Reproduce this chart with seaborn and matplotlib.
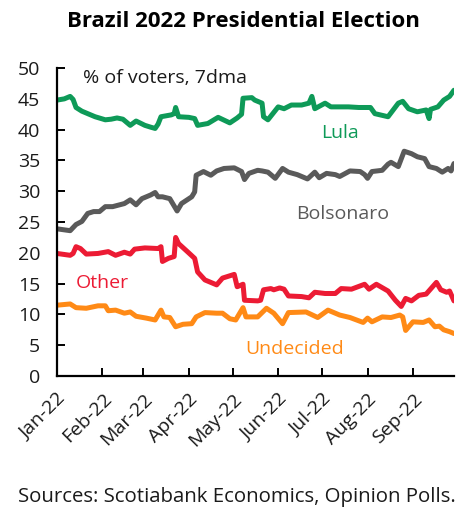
import matplotlib
matplotlib.use("Agg")
import matplotlib.pyplot as plt
import matplotlib.dates as mdates
import numpy as np
import pandas as pd
import seaborn as sns

# Poll averages (% of voters, 7-day moving average), 2022
lula_dates = ["2022-01-01", "2022-01-06", "2022-01-10", "2022-01-12", "2022-01-14", "2022-01-18",
              "2022-01-22", "2022-01-27", "2022-02-03", "2022-02-07", "2022-02-11", "2022-02-15",
              "2022-02-20", "2022-02-24", "2022-03-02", "2022-03-06", "2022-03-09", "2022-03-11",
              "2022-03-13", "2022-03-20", "2022-03-22", "2022-03-23", "2022-03-25", "2022-04-01",
              "2022-04-05", "2022-04-07", "2022-04-14", "2022-04-21", "2022-04-29", "2022-05-04",
              "2022-05-07", "2022-05-08", "2022-05-14", "2022-05-16", "2022-05-21", "2022-05-22",
              "2022-05-25", "2022-06-01", "2022-06-05", "2022-06-10", "2022-06-17", "2022-06-22",
              "2022-06-24", "2022-06-26", "2022-07-03", "2022-07-07", "2022-07-19", "2022-07-26",
              "2022-08-03", "2022-08-06", "2022-08-15", "2022-08-22", "2022-08-25", "2022-08-29",
              "2022-09-04", "2022-09-10", "2022-09-12", "2022-09-13", "2022-09-18", "2022-09-22",
              "2022-09-26", "2022-09-29"]
lula = [44.8, 45.0, 45.4, 44.9, 43.6, 43.0,
        42.6, 42.1, 41.6, 41.7, 41.9, 41.7,
        40.7, 41.4, 40.7, 40.4, 40.2, 40.9,
        42.1, 42.4, 42.6, 43.6, 42.1, 42.0,
        41.8, 40.7, 41.0, 42.0, 41.1, 41.9,
        42.5, 45.1, 45.2, 44.8, 44.3, 42.1,
        41.6, 43.7, 43.4, 44.0, 44.0, 44.3,
        45.4, 43.4, 44.3, 43.7, 43.7, 43.6,
        43.6, 42.6, 42.1, 44.3, 44.6, 43.4,
        42.9, 43.2, 41.8, 43.3, 43.7, 44.8,
        45.4, 46.4]

bolsonaro_dates = ["2022-01-01", "2022-01-10", "2022-01-14", "2022-01-18", "2022-01-22", "2022-01-26",
                   "2022-01-30", "2022-02-03", "2022-02-08", "2022-02-16", "2022-02-20", "2022-02-24",
                   "2022-02-28", "2022-03-06", "2022-03-09", "2022-03-11", "2022-03-14", "2022-03-19",
                   "2022-03-21", "2022-03-24", "2022-03-27", "2022-04-03", "2022-04-05", "2022-04-06",
                   "2022-04-11", "2022-04-16", "2022-04-20", "2022-04-25", "2022-05-02", "2022-05-07",
                   "2022-05-09", "2022-05-12", "2022-05-18", "2022-05-21", "2022-05-25", "2022-05-30",
                   "2022-06-04", "2022-06-08", "2022-06-14", "2022-06-21", "2022-06-26", "2022-06-29",
                   "2022-07-04", "2022-07-10", "2022-07-13", "2022-07-20", "2022-07-27", "2022-07-30",
                   "2022-08-01", "2022-08-04", "2022-08-11", "2022-08-15", "2022-08-17", "2022-08-22",
                   "2022-08-26", "2022-08-31", "2022-09-04", "2022-09-09", "2022-09-12", "2022-09-17",
                   "2022-09-21", "2022-09-25", "2022-09-27", "2022-09-29"]
bolsonaro = [23.9, 23.6, 24.6, 25.1, 26.4, 26.7,
             26.7, 27.5, 27.5, 28.0, 28.6, 27.8,
             28.8, 29.4, 29.8, 29.1, 29.1, 28.8,
             28.0, 26.8, 28.0, 29.1, 29.9, 32.6,
             33.2, 32.6, 33.3, 33.7, 33.8, 33.2,
             31.9, 32.9, 33.4, 33.3, 33.1, 32.1,
             33.7, 33.1, 32.7, 32.0, 33.1, 32.2,
             32.9, 32.7, 32.4, 33.3, 33.2, 32.7,
             32.1, 33.2, 33.4, 34.4, 34.7, 34.0,
             36.5, 36.1, 35.6, 35.3, 34.0, 33.7,
             33.1, 33.7, 33.3, 34.5]

other_dates = ["2022-01-01", "2022-01-10", "2022-01-12", "2022-01-14", "2022-01-17", "2022-01-21",
               "2022-01-29", "2022-02-05", "2022-02-10", "2022-02-16", "2022-02-20", "2022-02-23",
               "2022-03-02", "2022-03-11", "2022-03-13", "2022-03-14", "2022-03-18", "2022-03-22",
               "2022-03-23", "2022-03-25", "2022-03-31", "2022-04-05", "2022-04-07", "2022-04-12",
               "2022-04-20", "2022-04-24", "2022-05-02", "2022-05-04", "2022-05-08", "2022-05-09",
               "2022-05-18", "2022-05-20", "2022-05-22", "2022-05-27", "2022-05-29", "2022-06-02",
               "2022-06-05", "2022-06-08", "2022-06-17", "2022-06-22", "2022-06-26", "2022-07-03",
               "2022-07-10", "2022-07-14", "2022-07-21", "2022-07-30", "2022-08-02", "2022-08-07",
               "2022-08-15", "2022-08-20", "2022-08-24", "2022-08-27", "2022-08-31", "2022-09-05",
               "2022-09-10", "2022-09-17", "2022-09-20", "2022-09-24", "2022-09-26", "2022-09-29"]
other = [19.9, 19.6, 19.9, 21.0, 20.7, 19.8,
         19.9, 20.2, 19.6, 20.1, 19.8, 20.6,
         20.8, 20.7, 21.0, 18.6, 19.1, 19.4,
         22.5, 21.5, 20.2, 19.1, 16.9, 15.6,
         14.8, 15.9, 16.5, 14.5, 14.9, 12.3,
         12.2, 12.3, 14.0, 14.2, 14.0, 14.3,
         14.1, 13.0, 12.9, 12.7, 13.6, 13.4,
         13.4, 14.2, 14.1, 14.9, 14.1, 14.9,
         13.8, 12.3, 11.3, 12.6, 12.2, 13.1,
         13.3, 15.2, 14.0, 13.6, 13.8, 12.2]

undecided_dates = ["2022-01-01", "2022-01-10", "2022-01-14", "2022-01-21", "2022-01-29", "2022-02-03",
                   "2022-02-05", "2022-02-10", "2022-02-16", "2022-02-20", "2022-02-24", "2022-03-03",
                   "2022-03-05", "2022-03-09", "2022-03-13", "2022-03-15", "2022-03-19", "2022-03-23",
                   "2022-03-28", "2022-04-03", "2022-04-06", "2022-04-12", "2022-04-20", "2022-04-24",
                   "2022-04-29", "2022-05-03", "2022-05-08", "2022-05-10", "2022-05-18", "2022-05-24",
                   "2022-05-29", "2022-06-04", "2022-06-08", "2022-06-20", "2022-06-28", "2022-07-05",
                   "2022-07-13", "2022-07-20", "2022-07-29", "2022-08-01", "2022-08-04", "2022-08-11",
                   "2022-08-17", "2022-08-23", "2022-08-25", "2022-08-27", "2022-09-01", "2022-09-08",
                   "2022-09-12", "2022-09-16", "2022-09-19", "2022-09-22", "2022-09-26", "2022-09-29"]
undecided = [11.5, 11.7, 11.1, 11.0, 11.4, 11.4,
             10.6, 10.7, 10.2, 10.4, 9.7, 9.4,
             9.3, 9.1, 10.7, 9.6, 9.5, 8.0,
             8.4, 8.5, 9.6, 10.3, 10.2, 10.2,
             9.3, 9.1, 11.1, 9.6, 9.6, 11.0,
             10.2, 8.5, 10.3, 10.4, 9.5, 10.7,
             9.9, 9.5, 8.7, 9.4, 8.8, 9.6,
             9.5, 9.9, 9.6, 7.4, 8.8, 8.7,
             9.1, 8.0, 8.1, 7.5, 7.2, 6.9]

series_names = ["Lula", "Bolsonaro", "Other", "Undecided"]
series_colors = {"Lula": "#0e9a58", "Bolsonaro": "#5a5a5a", "Other": "#ec1b34", "Undecided": "#ff8a16"}

frames = []
for name, dates, vals in [("Lula", lula_dates, lula), ("Bolsonaro", bolsonaro_dates, bolsonaro),
                          ("Other", other_dates, other), ("Undecided", undecided_dates, undecided)]:
    frames.append(pd.DataFrame({"date": pd.to_datetime(dates), "value": vals, "series": name}))
df = pd.concat(frames, ignore_index=True)

sns.set_theme(style="ticks")
plt.rcParams["font.family"] = ["Open Sans", "DejaVu Sans"]

fig = plt.figure(figsize=(4.64, 5.08), dpi=100)
ax = fig.add_axes([0.1228, 0.2598, 0.8556, 0.6062])

sns.lineplot(data=df, x="date", y="value", hue="series", hue_order=series_names,
             palette=series_colors, linewidth=3.6, legend=False, ax=ax,
             estimator=None, sort=True)
for line in ax.get_lines():
    line.set_solid_joinstyle("round")
    line.set_solid_capstyle("round")

ax.set_xlim(pd.Timestamp("2022-01-01"), pd.Timestamp("2022-09-29"))
ax.set_ylim(0, 50)
ax.set_yticks(np.arange(0, 51, 5))
ax.xaxis.set_major_locator(mdates.MonthLocator())
ax.xaxis.set_major_formatter(mdates.DateFormatter("%b-%y"))
ax.set_xlabel("")
ax.set_ylabel("")

for side in ["top", "right"]:
    ax.spines[side].set_visible(False)
for side in ["left", "bottom"]:
    ax.spines[side].set_linewidth(1.6)
    ax.spines[side].set_color("black")

ax.tick_params(axis="both", direction="in", length=6, width=1.4, colors="black",
               labelsize=14, labelcolor="#1a1a1a")
ax.tick_params(axis="y", pad=12)
ax.tick_params(axis="x", pad=10)
for lbl in ax.get_xticklabels():
    lbl.set_rotation(45)
    lbl.set_ha("right")
    lbl.set_rotation_mode("anchor")

ax.text(pd.Timestamp("2022-01-19"), 48.4, "% of voters, 7dma", fontsize=14, color="#1a1a1a",
        va="center", ha="left")
ax.text(pd.Timestamp("2022-07-13"), 39.4, "Lula", fontsize=14, color=series_colors["Lula"],
        ha="center", va="center")
ax.text(pd.Timestamp("2022-07-15"), 26.3, "Bolsonaro", fontsize=14, color=series_colors["Bolsonaro"],
        ha="center", va="center")
ax.text(pd.Timestamp("2022-02-01"), 15.1, "Other", fontsize=14, color=series_colors["Other"],
        ha="center", va="center")
ax.text(pd.Timestamp("2022-06-12"), 4.4, "Undecided", fontsize=14, color=series_colors["Undecided"],
        ha="center", va="center")

fig.text(0.525, 0.957, "Brazil 2022 Presidential Election", fontsize=16, fontweight="bold",
         ha="center", va="center", color="black")
fig.text(0.038, 0.022, "Sources: Scotiabank Economics, Opinion Polls.", fontsize=14.7,
         ha="left", va="center", color="#1a1a1a")

fig.savefig("out.png", dpi=100)
